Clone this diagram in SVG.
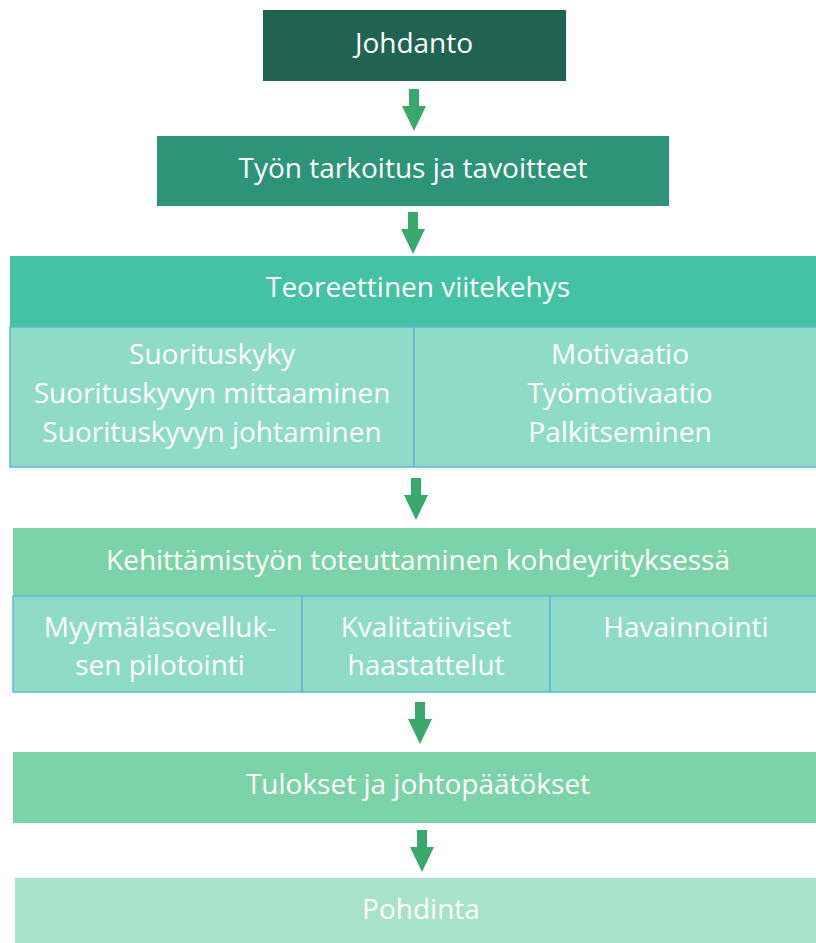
<svg xmlns="http://www.w3.org/2000/svg" width="816" height="943" viewBox="0 0 816 943">
  <defs>
    <style>
      text { font-family: "Open Sans", "Noto Sans", "Liberation Sans", sans-serif; font-size: 28px; fill: #ffffff; text-anchor: middle; }
      .cell { fill: #90dbc8; stroke: #5cb9d6; stroke-width: 1.5; }
      .arrow { fill: #3aa86d; }
    </style>
    <path id="down" d="M-5,0 H5 V17 H12 L0,42 L-12,17 H-5 Z"/>
  </defs>
  <rect width="816" height="943" fill="#ffffff"/>

  <g id="johdanto">
    <rect x="263" y="10" width="303" height="71" fill="#216352"/>
    <text x="414" y="53">Johdanto</text>
  </g>

  <g id="tarkoitus">
    <rect x="157" y="136" width="512" height="70" fill="#2e9479"/>
    <text x="413" y="178">Työn tarkoitus ja tavoitteet</text>
  </g>

  <g id="viitekehys">
    <rect x="10" y="256" width="806" height="71" fill="#45c1a3"/>
    <text x="418" y="297">Teoreettinen viitekehys</text>
    <rect class="cell" x="10" y="327" width="404" height="140"/>
    <rect class="cell" x="414" y="327" width="404" height="140"/>
    <text x="212" y="364">Suorituskyky</text>
    <text x="212" y="403">Suorituskyvyn mittaaminen</text>
    <text x="212" y="442">Suorituskyvyn johtaminen</text>
    <text x="620" y="364">Motivaatio</text>
    <text x="620" y="403">Työmotivaatio</text>
    <text x="620" y="442">Palkitseminen</text>
  </g>

  <g id="kehittamistyo">
    <rect x="13" y="528" width="803" height="68" fill="#7dd3a8"/>
    <text x="418" y="570">Kehittämistyön toteuttaminen kohdeyrityksessä</text>
    <rect class="cell" x="13" y="596" width="289" height="96"/>
    <rect class="cell" x="302" y="596" width="248" height="96"/>
    <rect class="cell" x="550" y="596" width="268" height="96"/>
    <text x="160" y="637">Myymäläsovelluk-</text>
    <text x="160" y="675">sen pilotointi</text>
    <text x="426" y="637">Kvalitatiiviset</text>
    <text x="426" y="675">haastattelut</text>
    <text x="686" y="637">Havainnointi</text>
  </g>

  <g id="tulokset">
    <rect x="13" y="752" width="803" height="71" fill="#7dd3a8"/>
    <text x="418" y="794">Tulokset ja johtopäätökset</text>
  </g>

  <g id="pohdinta">
    <rect x="15" y="878" width="801" height="65" fill="#a8e2c7"/>
    <text x="421" y="919">Pohdinta</text>
  </g>

  <g id="connectors" class="arrow">
    <use href="#down" x="414" y="89"/>
    <use href="#down" x="413" y="212"/>
    <use href="#down" x="416" y="478"/>
    <use href="#down" x="420" y="702"/>
    <use href="#down" x="422" y="830"/>
  </g>
</svg>
